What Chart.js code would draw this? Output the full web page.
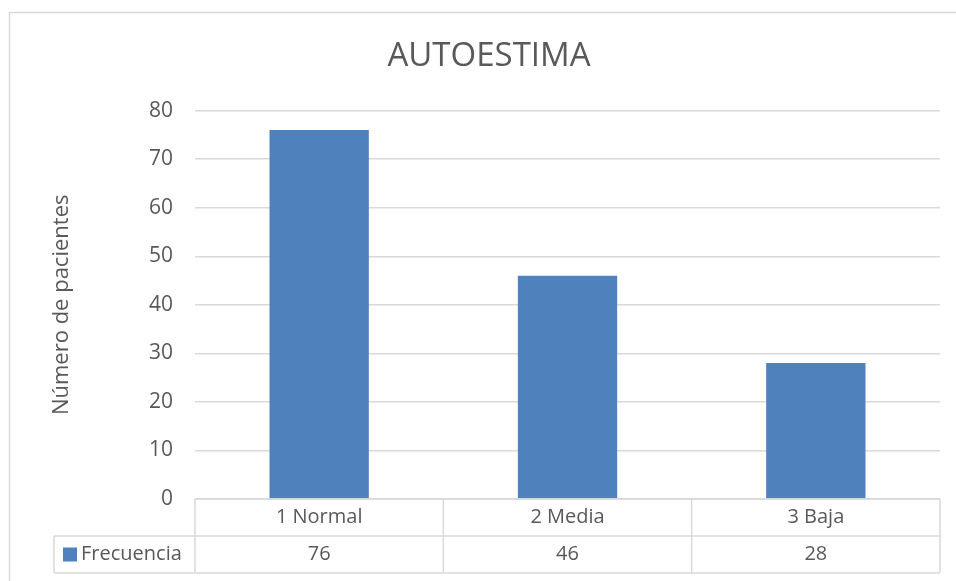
<!DOCTYPE html>
<html>
<head>
<meta charset="utf-8">
<script src="https://cdn.jsdelivr.net/npm/chart.js@4.4.1/dist/chart.umd.min.js"></script>
<style>
  body { margin: 0; background: #fff; }
  #wrap { width: 956px; height: 581px; position: relative; }
</style>
</head>
<body>
<div id="wrap"><canvas id="myChart"></canvas></div>
<script>
const categories = ['1 Normal', '2 Media', '3 Baja'];
const frecuencia = [76, 46, 28];
const seriesName = 'Frecuencia';
const yTicks = [0, 10, 20, 30, 40, 50, 60, 70, 80];

const textColor = '#595959';
const lineColor = '#d9d9d9';
const barColor = '#4f81bd';
const fontFamily = '"Open Sans", "Liberation Sans", sans-serif';

// outer chart border + data table under the plot
const tablePlugin = {
  id: 'dataTable',
  beforeDraw(chart) {
    const ctx = chart.ctx;
    ctx.save();
    ctx.strokeStyle = lineColor;
    ctx.lineWidth = 1.5;
    ctx.strokeRect(9.5, 12.5, 1000, 1000);
    ctx.restore();
  },
  afterDraw(chart) {
    const {ctx, chartArea} = chart;
    const x = chart.scales.x;
    const top = chartArea.bottom;
    const mid = top + 37;
    const bot = mid + 37;
    const left = 54;
    const step = (x.right - x.left) / categories.length;

    ctx.save();
    ctx.strokeStyle = lineColor;
    ctx.lineWidth = 1.5;
    ctx.beginPath();
    ctx.moveTo(x.left, top); ctx.lineTo(x.right, top);
    ctx.moveTo(left, mid); ctx.lineTo(x.right, mid);
    ctx.moveTo(left, bot); ctx.lineTo(x.right, bot);
    ctx.moveTo(left, mid); ctx.lineTo(left, bot);
    for (let i = 0; i <= categories.length; i++) {
      const cx = x.left + step * i;
      ctx.moveTo(cx, top); ctx.lineTo(cx, bot);
    }
    ctx.stroke();

    ctx.fillStyle = textColor;
    ctx.font = '20px ' + fontFamily;
    ctx.textAlign = 'center';
    ctx.textBaseline = 'middle';
    categories.forEach((c, i) => {
      const cx = x.getPixelForValue(i);
      ctx.fillText(c, cx, (top + mid) / 2);
      ctx.fillText(String(frecuencia[i]), cx, (mid + bot) / 2);
    });

    // legend key
    ctx.fillStyle = barColor;
    ctx.fillRect(63, (mid + bot) / 2 - 7, 14, 14);
    ctx.fillStyle = textColor;
    ctx.textAlign = 'left';
    ctx.fillText(seriesName, 81, (mid + bot) / 2);
    ctx.restore();
  }
};

const data = {
  labels: categories,
  datasets: [{
    label: seriesName,
    data: frecuencia,
    backgroundColor: barColor,
    borderWidth: 0,
    barPercentage: 0.4,
    categoryPercentage: 1.0
  }]
};

const config = {
  type: 'bar',
  data: data,
  plugins: [tablePlugin],
  options: {
    responsive: true,
    maintainAspectRatio: false,
    animation: false,
    layout: { padding: { top: 0, right: 16, bottom: 82, left: 38 } },
    plugins: {
      legend: { display: false },
      tooltip: { enabled: false },
      title: {
        display: true,
        text: 'AUTOESTIMA',
        color: textColor,
        font: { family: fontFamily, size: 33, weight: 'normal' },
        padding: { top: 37, bottom: 34 }
      }
    },
    scales: {
      x: { display: false },
      y: {
        min: 0,
        max: 80,
        afterFit(scale) { scale.width = 157; },
        afterBuildTicks(scale) { scale.ticks = yTicks.map(v => ({ value: v })); },
        border: { display: false },
        grid: { color: lineColor, lineWidth: 1.5, drawTicks: false },
        ticks: {
          color: textColor,
          padding: 22,
          font: { family: fontFamily, size: 21 }
        },
        title: {
          display: true,
          text: 'Número de pacientes',
          color: textColor,
          font: { family: fontFamily, size: 22 },
          padding: { top: 11, bottom: 0 }
        }
      }
    }
  }
};

const myChart = new Chart(document.getElementById('myChart'), config);
</script>
</body>
</html>
